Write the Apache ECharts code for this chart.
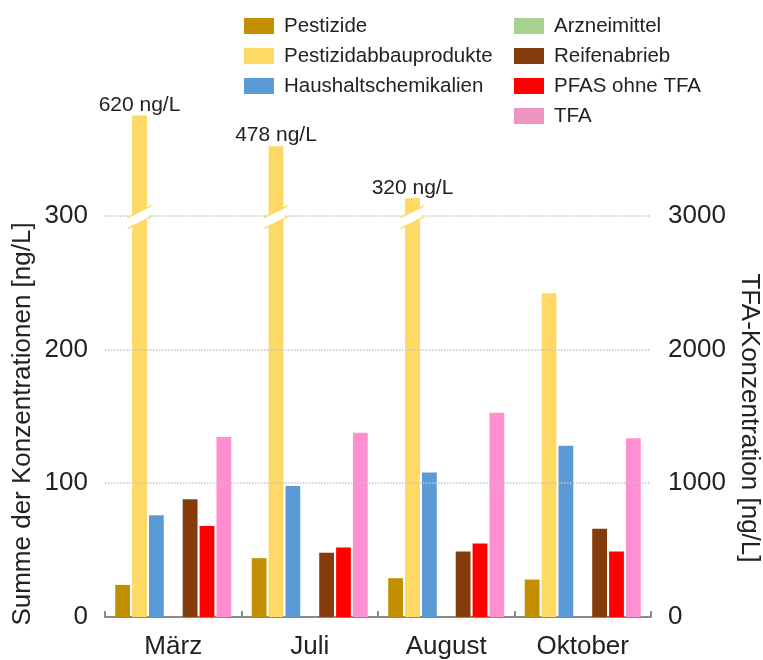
<!DOCTYPE html>
<html>
<head>
<meta charset="utf-8">
<script src="https://cdn.jsdelivr.net/npm/echarts@6/dist/echarts.min.js"></script>
<style>
  html, body { margin: 0; padding: 0; background: #fff; }
  #chart { width: 763px; height: 660px; }
</style>
</head>
<body>
<div id="chart"></div>
<script>
// Sampling months
const months = ['März', 'Juli', 'August', 'Oktober'];

// Concentrations per substance group [ng/L] (left axis)
const pestizide = [24, 44, 29, 28];
const pestizidAbbau = [620, 478, 320, 242];
const haushalt = [76, 98, 108, 128];
const arznei = [0, 0, 0, 0];
const reifen = [88, 48, 49, 66];
const pfas = [68, 52, 55, 49];

// TFA concentration [ng/L] (right axis)
const tfa = [1346, 1378, 1526, 1336];

// Tick labels
const leftTicks = [0, 100, 200, 300];
const rightTicks = [0, 1000, 2000, 3000];

// Bars above this value are shown interrupted
const breakValue = 300;

const FONT = "'Liberation Sans', Arial, Helvetica, sans-serif";
const TEXT = '#222';
const BAR_GAP = 0.14;
const CAT_GAP = 0.15;
const SERIES_COUNT = 7;

const colors = {
  pestizide: '#c18f00',
  abbau: '#fed966',
  haushalt: '#5b9bd5',
  arznei: '#a9d18e',
  reifen: '#843c0c',
  pfas: '#ff0000',
  tfa: '#ff8fd1'
};

const chart = echarts.init(document.getElementById('chart'), null, { renderer: 'canvas' });

function bar(name, data, color, extra) {
  return Object.assign({
    name: name,
    type: 'bar',
    data: data,
    yAxisIndex: 0,
    barGap: (BAR_GAP * 100) + '%',
    barCategoryGap: (CAT_GAP * 100) + '%',
    itemStyle: { color: color },
    emphasis: { disabled: true },
    animation: false
  }, extra || {});
}

// Slash mark drawn across an interrupted bar
function renderBreak(params, api) {
  const pt = api.coord([api.value(0), api.value(1)]);
  const band = api.size([1, 0])[0];
  const used = band * (1 - CAT_GAP);
  const w = used / (SERIES_COUNT + (SERIES_COUNT - 1) * BAR_GAP);
  // second bar of the group (Pestizidabbauprodukte)
  const cx = pt[0] - used / 2 + w * (1 + BAR_GAP) + w / 2;
  const cy = pt[1] + 1.5;
  const s = 0.5, off = 5.5, hw = w / 2 + 1, L = 12;
  return {
    type: 'group',
    children: [
      {
        type: 'polygon',
        shape: { points: [
          [cx - hw, cy - off + s * hw], [cx + hw, cy - off - s * hw],
          [cx + hw, cy + off - s * hw], [cx - hw, cy + off + s * hw]
        ] },
        style: { fill: '#fff' }
      },
      {
        type: 'line',
        shape: { x1: cx - L, y1: cy - off + s * L, x2: cx + L, y2: cy - off - s * L },
        style: { stroke: colors.abbau, lineWidth: 1.5 }
      },
      {
        type: 'line',
        shape: { x1: cx - L, y1: cy + off + s * L, x2: cx + L, y2: cy + off - s * L },
        style: { stroke: colors.abbau, lineWidth: 1.5 }
      }
    ]
  };
}

const breakData = pestizidAbbau
  .map((v, i) => (v > breakValue ? [i, breakValue] : null))
  .filter(Boolean);

const legendText = { fontSize: 20.5, color: TEXT, fontFamily: FONT, lineHeight: 22, padding: [0, 0, 0, 5] };

const option = {
  backgroundColor: '#fff',
  animation: false,
  textStyle: { fontFamily: FONT },
  grid: { left: 105, right: 112, top: 102, bottom: 38, containLabel: false },
  legend: [
    {
      orient: 'vertical', left: 239, top: 10,
      itemWidth: 30, itemHeight: 16, itemGap: 8,
      icon: 'rect', selectedMode: false,
      textStyle: legendText,
      data: ['Pestizide', 'Pestizidabbauprodukte', 'Haushaltschemikalien']
    },
    {
      orient: 'vertical', left: 509, top: 10,
      itemWidth: 30, itemHeight: 16, itemGap: 8,
      icon: 'rect', selectedMode: false,
      textStyle: legendText,
      data: ['Arzneimittel', 'Reifenabrieb', 'PFAS ohne TFA',
        { name: 'TFA', itemStyle: { color: '#ee94c1' } }]
    }
  ],
  xAxis: {
    type: 'category',
    data: months,
    axisLine: { lineStyle: { color: '#8a8a8a', width: 2 } },
    axisTick: { show: true, inside: true, length: 6, lineStyle: { color: '#8a8a8a', width: 2 } },
    axisLabel: { fontSize: 26, color: TEXT, margin: 17 },
    splitLine: { show: false }
  },
  yAxis: [
    {
      type: 'value', min: 0, max: 630, interval: 100,
      breaks: [
        { start: 310, end: 318, gap: 1 },
        { start: 330, end: 460, gap: 11 },
        { start: 485, end: 610, gap: 6 }
      ],
      breakArea: { show: false, itemStyle: { opacity: 0, borderWidth: 0 } },
      breakLabelLayout: { moveOverlap: false },
      axisLine: { show: false },
      axisTick: { show: false },
      splitLine: { show: false },
      axisLabel: {
        fontSize: 26, color: TEXT, margin: 17,
        customValues: leftTicks,
        formatter: v => String(v)
      }
    },
    {
      type: 'value', min: 0, max: 3850, interval: 1000, position: 'right',
      axisLine: { show: false },
      axisTick: { show: false },
      splitLine: { show: false },
      axisLabel: {
        fontSize: 26, color: TEXT, margin: 17,
        customValues: rightTicks,
        formatter: v => String(v)
      }
    }
  ],
  graphic: [
    {
      type: 'text', x: 23, y: 424, rotation: Math.PI / 2,
      style: { text: 'Summe der Konzentrationen [ng/L]', fontSize: 26, fontFamily: FONT,
        fill: TEXT, align: 'center', verticalAlign: 'middle' }
    },
    {
      type: 'text', x: 749, y: 418, rotation: -Math.PI / 2,
      style: { text: 'TFA-Konzentration [ng/L]', fontSize: 26, fontFamily: FONT,
        fill: TEXT, align: 'center', verticalAlign: 'middle' }
    }
  ],
  series: [
    bar('Pestizide', pestizide, colors.pestizide, {
      markLine: {
        silent: true, symbol: 'none', animation: false,
        label: { show: false },
        lineStyle: { type: 'dotted', color: '#c4c4c4', width: 1.5 },
        data: leftTicks.filter(v => v > 0).map(v => ({ yAxis: v }))
      }
    }),
    bar('Pestizidabbauprodukte',
      pestizidAbbau.map(v => ({ value: v, label: { show: v > breakValue } })),
      colors.abbau, {
        z: 3,
        label: {
          show: false, position: 'top', distance: 0,
          formatter: '{c} ng/L', fontSize: 21, color: TEXT, fontFamily: FONT
        }
      }),
    bar('Haushaltschemikalien', haushalt, colors.haushalt),
    bar('Arzneimittel', arznei, colors.arznei),
    bar('Reifenabrieb', reifen, colors.reifen),
    bar('PFAS ohne TFA', pfas, colors.pfas),
    bar('TFA', tfa, colors.tfa, { yAxisIndex: 1 }),
    {
      name: 'break',
      type: 'custom',
      xAxisIndex: 0,
      yAxisIndex: 0,
      z: 10,
      silent: true,
      renderItem: renderBreak,
      encode: { x: 0, y: 1 },
      data: breakData,
      animation: false
    }
  ]
};

chart.setOption(option);
</script>
</body>
</html>
